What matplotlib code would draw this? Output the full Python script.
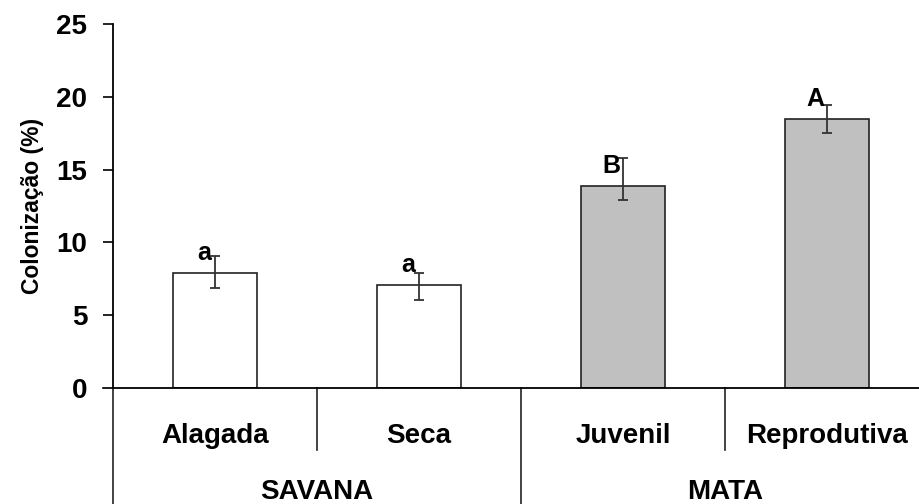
import matplotlib
matplotlib.use("Agg")
import matplotlib.pyplot as plt
from matplotlib.transforms import blended_transform_factory

# Values
categories = ["Alagada", "Seca", "Juvenil", "Reprodutiva"]
groups = ["SAVANA", "MATA"]
means = [7.9, 7.1, 13.9, 18.5]
err_low = [1.0, 1.05, 1.0, 1.0]
err_high = [1.2, 0.8, 1.9, 0.95]
letters = ["a", "a", "B", "A"]
fills = ["white", "white", "#c0c0c0", "#c0c0c0"]
yticks = [0, 5, 10, 15, 20, 25]

plt.rcParams["font.family"] = ["Liberation Sans", "DejaVu Sans"]
plt.rcParams["font.weight"] = "bold"

fig = plt.figure(figsize=(9.2, 5.04), dpi=100)
W, H = 920, 504
ax = fig.add_axes([113 / W, (H - 388) / H, 816 / W, 364 / H])

x = list(range(len(categories)))
ax.bar(x, means, width=0.41, color=fills, edgecolor="#222222", linewidth=1.2, zorder=2)
ax.errorbar(x, means, yerr=[err_low, err_high], fmt="none", ecolor="#333333",
            elinewidth=1.3, capsize=3.5, capthick=1.3, zorder=3)

for xi, m, lab in zip(x, means, letters):
    ax.text(xi - 0.055, m + 0.9, lab, ha="center", va="baseline",
            fontsize=18, fontweight="bold", zorder=4)

ax.set_xlim(-0.5, 3.5)
ax.set_ylim(0, 25)
ax.set_yticks(yticks)
ax.set_yticklabels([str(t) for t in yticks], fontsize=20, fontweight="bold")
ax.tick_params(axis="y", direction="out", length=7.5, width=1.2, pad=11)
ax.set_xticks([])
ax.set_ylabel("Colonização (%)", fontsize=16.5, fontweight="bold", labelpad=9)

for side in ["top", "right"]:
    ax.spines[side].set_visible(False)
ax.spines["left"].set_linewidth(1.3)
ax.spines["bottom"].set_linewidth(1.3)

# category labels and separators below the axis
trans = blended_transform_factory(ax.transData, ax.transAxes)
for xi, cat in zip(x, categories):
    ax.text(xi, -0.151, cat, transform=trans, ha="center", va="baseline",
            fontsize=20, fontweight="bold")
for gi, grp in enumerate(groups):
    ax.text(gi * 2 + 0.5, -0.305, grp, transform=trans, ha="center", va="baseline",
            fontsize=20, fontweight="bold")

for xs in [0.5, 2.5]:
    ax.plot([xs, xs], [0, -0.17], transform=trans, color="#222222", lw=1.2, clip_on=False)
for xs in [-0.5, 1.5, 3.5]:
    ax.plot([xs, xs], [0, -0.33], transform=trans, color="#222222", lw=1.2, clip_on=False)
ax.plot([-0.5 - 10 / 204, -0.5], [0, 0], transform=trans, color="#222222", lw=1.3, clip_on=False)

fig.savefig("out.png", dpi=100)
